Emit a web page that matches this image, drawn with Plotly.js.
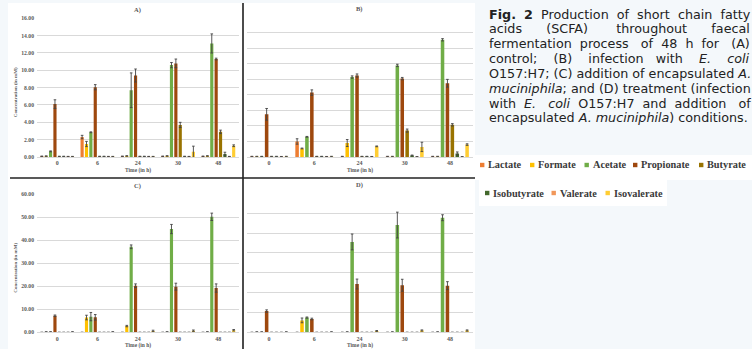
<!DOCTYPE html>
<html><head><meta charset="utf-8">
<script src="https://cdn.plot.ly/plotly-3.0.1.min.js"></script>
<style>html,body{margin:0;padding:0;background:#f4f8fb;}#chart{width:752px;height:349px;}</style>
</head><body><div id="chart"></div>
<script>
// ---------- DATA ----------
const cats = ['0', '6', '24', '30', '48'];
const series = ['Lactate', 'Formate', 'Acetate', 'Propionate', 'Butyrate', 'Isobutyrate', 'Valerate', 'Isovalerate'];
const panelTitles = ['A)', 'B)', 'C)', 'D)'];
const xTitle = 'Time (in h)';
const yTitle = 'Concentration (in mM)';
const captionLines = [
  '<b>Fig. 2</b> Production of short chain fatty',
  'acids (SCFA) throughout faecal',
  'fermentation process of 48 h for (A)',
  'control; (B) infection with <i>E. coli</i>',
  'O157:H7; (C) addition of encapsulated <i>A.</i>',
  '<i>muciniphila</i>; and (D) treatment (infection',
  'with <i>E. coli</i> O157:H7 and addition of',
  'encapsulated <i>A. muciniphila</i>) conditions.'
];

// Panel A (control) – rows follow `series`, columns follow `cats`
const valsA = [
  [0.08, 2.3, 0.08, 0.08, 0.08],
  [0.10, 1.5, 0.12, 0.12, 0.12],
  [0.65, 2.85, 7.7, 10.6, 13.1],
  [6.1, 8.05, 9.4, 10.8, 11.3],
  [0.06, 0.06, 0.06, 3.7, 2.9],
  [0.06, 0.06, 0.06, 0.06, 0.35],
  [0.05, 0.05, 0.05, 0.05, 0.05],
  [0.05, 0.05, 0.05, 0.6, 1.3]
];
const errA = [
  [0.03, 0.2, 0.03, 0.03, 0.03],
  [0.03, 0.3, 0.03, 0.03, 0.03],
  [0.05, 0.05, 2.0, 0.3, 1.1],
  [0.5, 0.3, 0.75, 0.5, 0.1],
  [0.03, 0.03, 0.03, 0.3, 0.2],
  [0.03, 0.03, 0.03, 0.03, 0.2],
  [0.02, 0.02, 0.02, 0.02, 0.02],
  [0.02, 0.02, 0.02, 0.65, 0.1]
];
// Panel B (E. coli infection)
const valsB = [
  [0.06, 2.0, 0.06, 0.06, 0.06],
  [0.06, 1.1, 1.8, 0.06, 0.06],
  [0.06, 2.6, 10.3, 11.8, 15.1],
  [5.5, 8.3, 10.5, 10.1, 9.5],
  [0.06, 0.06, 0.06, 3.4, 4.15],
  [0.06, 0.06, 0.06, 0.2, 0.45],
  [0.05, 0.05, 0.05, 0.03, 0.03],
  [0.06, 0.06, 1.37, 1.3, 1.6]
];
const errB = [
  [0.03, 0.35, 0.03, 0.03, 0.03],
  [0.03, 0.05, 0.45, 0.03, 0.03],
  [0.03, 0.05, 0.15, 0.15, 0.15],
  [0.75, 0.35, 0.2, 0.15, 0.5],
  [0.03, 0.03, 0.03, 0.2, 0.15],
  [0.03, 0.03, 0.03, 0.05, 0.2],
  [0.02, 0.02, 0.02, 0.02, 0.02],
  [0.03, 0.03, 0.05, 0.6, 0.1]
];
// Panel C (encapsulated A. muciniphila)
const valsC = [
  [0, 0, 0, 0, 0],
  [0.15, 6.4, 2.7, 0.15, 0.15],
  [0.15, 6.8, 37.1, 44.8, 50.1],
  [7.2, 6.5, 20.2, 19.8, 19.2],
  [0, 0, 0, 0, 0],
  [0, 0, 0, 0, 0],
  [0, 0, 0, 0, 0],
  [0.15, 0.15, 0.6, 0.7, 0.9]
];
const errC = [
  [0, 0, 0, 0, 0],
  [0.1, 1.0, 0.3, 0.1, 0.1],
  [0.1, 1.8, 0.8, 2.0, 1.6],
  [0.3, 1.2, 0.8, 1.5, 1.8],
  [0, 0, 0, 0, 0],
  [0, 0, 0, 0, 0],
  [0, 0, 0, 0, 0],
  [0.1, 0.1, 0.3, 0.3, 0.3]
];
// Panel D (treatment)
const valsD = [
  [0, 0, 0, 0, 0],
  [0.15, 6.0, 0.15, 0.15, 0.15],
  [0.15, 7.4, 45.5, 54.0, 57.7],
  [10.7, 6.7, 24.3, 23.7, 23.5],
  [0, 0, 0, 0, 0],
  [0, 0, 0, 0, 0],
  [0, 0, 0, 0, 0],
  [0.15, 0.15, 0.6, 0.9, 0.9]
];
const errD = [
  [0, 0, 0, 0, 0],
  [0.1, 1.2, 0.1, 0.1, 0.1],
  [0.1, 0.3, 4.0, 6.5, 1.5],
  [0.6, 0.4, 2.5, 3.0, 2.0],
  [0, 0, 0, 0, 0],
  [0, 0, 0, 0, 0],
  [0, 0, 0, 0, 0],
  [0.1, 0.1, 0.3, 0.3, 0.3]
];

// ---------- STYLE ----------
const colors = ['#ED7D31', '#FFC000', '#70AD47', '#9E480E', '#997300', '#43682B', '#F1975A', '#FFCD33'];
const W = 752, H = 349;
const px = v => v / W;
const py = v => 1 - v / H;
const serif = 'Liberation Serif, Times New Roman, serif';
const gray = '#595959';

const panels = [
  {vals: valsA, err: errA, xd: [37, 238.5], yd: [18.3, 157], range: [0, 16], dtick: 2, labels: true},
  {vals: valsB, err: errB, xd: [246.5, 472.5], yd: [17.3, 157], range: [0, 18], dtick: 2, labels: false},
  {vals: valsC, err: errC, xd: [37, 238.5], yd: [194, 332.3], range: [0, 60], dtick: 10, labels: true},
  {vals: valsD, err: errD, xd: [246.5, 472.5], yd: [193.3, 332.3], range: [0, 70], dtick: 10, labels: false}
];

const traces = [];
const layout = {
  width: W, height: H,
  margin: {l: 0, r: 0, t: 0, b: 0},
  paper_bgcolor: '#f4f8fb',
  plot_bgcolor: 'rgba(0,0,0,0)',
  barmode: 'group', bargap: 0.13, bargroupgap: 0.28,
  showlegend: false,
  shapes: [], annotations: []
};

panels.forEach((p, k) => {
  const sx = k ? String(k + 1) : '';
  p.vals.forEach((row, i) => {
    traces.push({
      type: 'bar', x: cats, y: row, name: series[i],
      xaxis: 'x' + sx, yaxis: 'y' + sx,
      marker: {color: colors[i], line: {width: 0}},
      error_y: {type: 'data', array: p.err[i], visible: true, color: '#444444', thickness: 0.9, width: 1.3},
      hoverinfo: 'skip', showlegend: false
    });
  });
  layout['xaxis' + sx] = {
    domain: [px(p.xd[0]), px(p.xd[1])], anchor: 'y' + sx, type: 'category',
    showgrid: false, zeroline: false, showline: true, linecolor: '#d9d9d9', linewidth: 1,
    ticks: '', tickfont: {family: serif, size: 6, color: gray, weight: 'bold'}, fixedrange: true
  };
  layout['yaxis' + sx] = {
    domain: [py(p.yd[1]), py(p.yd[0])], anchor: 'x' + sx,
    range: p.range, dtick: p.dtick, tickformat: '.2f',
    showgrid: true, gridcolor: '#d9d9d9', gridwidth: 1, zeroline: false, showline: false,
    showticklabels: p.labels, ticks: '', ticklabelstandoff: 2,
    tickfont: {family: serif, size: 5.7, color: gray, weight: 'bold'}, fixedrange: true
  };
  const cx = (p.xd[0] + p.xd[1]) / 2;
  layout.annotations.push({
    xref: 'paper', yref: 'paper', x: px(cx), y: py(p.yd[0] - 8), text: '<b>' + panelTitles[k] + '</b>',
    showarrow: false, font: {family: serif, size: 6.5, color: gray}, xanchor: 'center', yanchor: 'middle'
  });
  layout.annotations.push({
    xref: 'paper', yref: 'paper', x: px(cx), y: py(p.yd[1] + 13.5), text: '<b>' + xTitle + '</b>',
    showarrow: false, font: {family: serif, size: 5.5, color: gray}, xanchor: 'center', yanchor: 'middle'
  });
  if (p.labels) {
    layout.annotations.push({
      xref: 'paper', yref: 'paper', x: px(15.5), y: py((p.yd[0] + p.yd[1]) / 2 + 4), text: '<b>' + yTitle + '</b>',
      textangle: -90, showarrow: false, font: {family: serif, size: 5, color: gray}, xanchor: 'center', yanchor: 'middle'
    });
  }
});

// background blocks and dividers
const rect = (x0, y0, x1, y1, fill, layer) => ({type: 'rect', xref: 'paper', yref: 'paper',
  x0: px(x0), x1: px(x1), y0: py(y1), y1: py(y0), fillcolor: fill, line: {width: 0}, layer: layer || 'below'});
layout.shapes.push(rect(8, 3, 475, 349, '#ffffff'));
layout.shapes.push(rect(473, 155, 752, 180, '#ffffff'));
layout.shapes.push(rect(479, 180, 667, 206, '#ffffff'));
layout.shapes.push({type: 'line', xref: 'paper', yref: 'paper', x0: px(243), x1: px(243), y0: py(349), y1: py(3),
  line: {color: '#111111', width: 1.5}, layer: 'above'});
layout.shapes.push({type: 'line', xref: 'paper', yref: 'paper', x0: px(10), x1: px(475), y0: py(178), y1: py(178),
  line: {color: '#222222', width: 1.6}, layer: 'above'});

// legend (custom, two rows)
const legendPos = [[480, 165], [530, 165], [584.5, 165], [633, 165], [699, 165], [485, 193], [551.5, 193], [605.5, 193]];
series.forEach((s, i) => {
  const [lx, ly] = legendPos[i];
  layout.shapes.push(rect(lx, ly - 2.2, lx + 4.4, ly + 2.2, colors[i], 'above'));
  layout.annotations.push({
    xref: 'paper', yref: 'paper', x: px(lx + 6), y: py(ly), text: '<b>' + s + '</b>',
    showarrow: false, font: {family: serif, size: 10.3, color: '#3a3a3a'}, xanchor: 'left', yanchor: 'middle'
  });
});

// caption – justified with non-breaking spaces, one annotation per line
(function () {
  const fam = 'DejaVu Sans';
  const cv = document.createElement('canvas').getContext('2d');
  const fontStr = (b, it, sz) => (it ? 'italic ' : '') + (b ? 'bold ' : '') + sz + 'px "' + fam + '"';
  function parse(line) {
    const re = /<(\/?)(b|i)>|([^<]+)/g; let m, b = false, it = false; const segs = [];
    while ((m = re.exec(line))) {
      if (m[2]) { const on = !m[1]; if (m[2] === 'b') b = on; else it = on; }
      else segs.push({t: m[3], b, it});
    }
    const words = []; let cur = [];
    segs.forEach(sg => {
      const parts = sg.t.split(' ');
      parts.forEach((pt, j) => {
        if (j > 0) { if (cur.length) words.push(cur); cur = []; }
        if (pt) cur.push({t: pt, b: sg.b, it: sg.it});
      });
    });
    if (cur.length) words.push(cur);
    return words;
  }
  const measure = (w, sz) => w.reduce((a, sg) => { cv.font = fontStr(sg.b, sg.it, sz); return a + cv.measureText(sg.t).width; }, 0);
  const x0 = 488, x1 = 748, avail = x1 - x0;
  const parsed = captionLines.map(parse);
  // calibrate the size so that the final (non-justified) line spans its reference width
  let size = 11;
  const last = parsed[parsed.length - 1];
  cv.font = fontStr(false, false, size);
  const natLast = last.reduce((a, wd) => a + measure(wd, size), 0) + (last.length - 1) * cv.measureText(' ').width;
  size = size * 259 / natLast;
  cv.font = fontStr(false, false, size);
  const sp = cv.measureText('\u00A0').width;
  parsed.forEach((ws, li) => {
    const widths = ws.map(wd => measure(wd, size));
    const total = widths.reduce((a, b) => a + b, 0);
    const justify = li < parsed.length - 1;
    const gap = justify && ws.length > 1 ? (avail - total) / (ws.length - 1) : sp;
    let acc = 0, used = 0, txt = '';
    ws.forEach((wd, j) => {
      if (j > 0) {
        acc += gap;
        const n = Math.max(1, Math.round(acc / sp) - used);
        used += n;
        txt += '\u00A0'.repeat(n);
      }
      txt += wd.map(sg => { let t = sg.t; if (sg.it) t = '<i>' + t + '</i>'; if (sg.b) t = '<b>' + t + '</b>'; return t; }).join('');
    });
    layout.annotations.push({
      xref: 'paper', yref: 'paper', x: px(x0 - 1), y: py(14 + li * 14.85), text: txt, showarrow: false,
      font: {family: fam, size: size, color: '#222222'}, xanchor: 'left', yanchor: 'middle'
    });
  });
})();

Plotly.newPlot('chart', traces, layout, {staticPlot: true, displayModeBar: false});
</script>
</body></html>
